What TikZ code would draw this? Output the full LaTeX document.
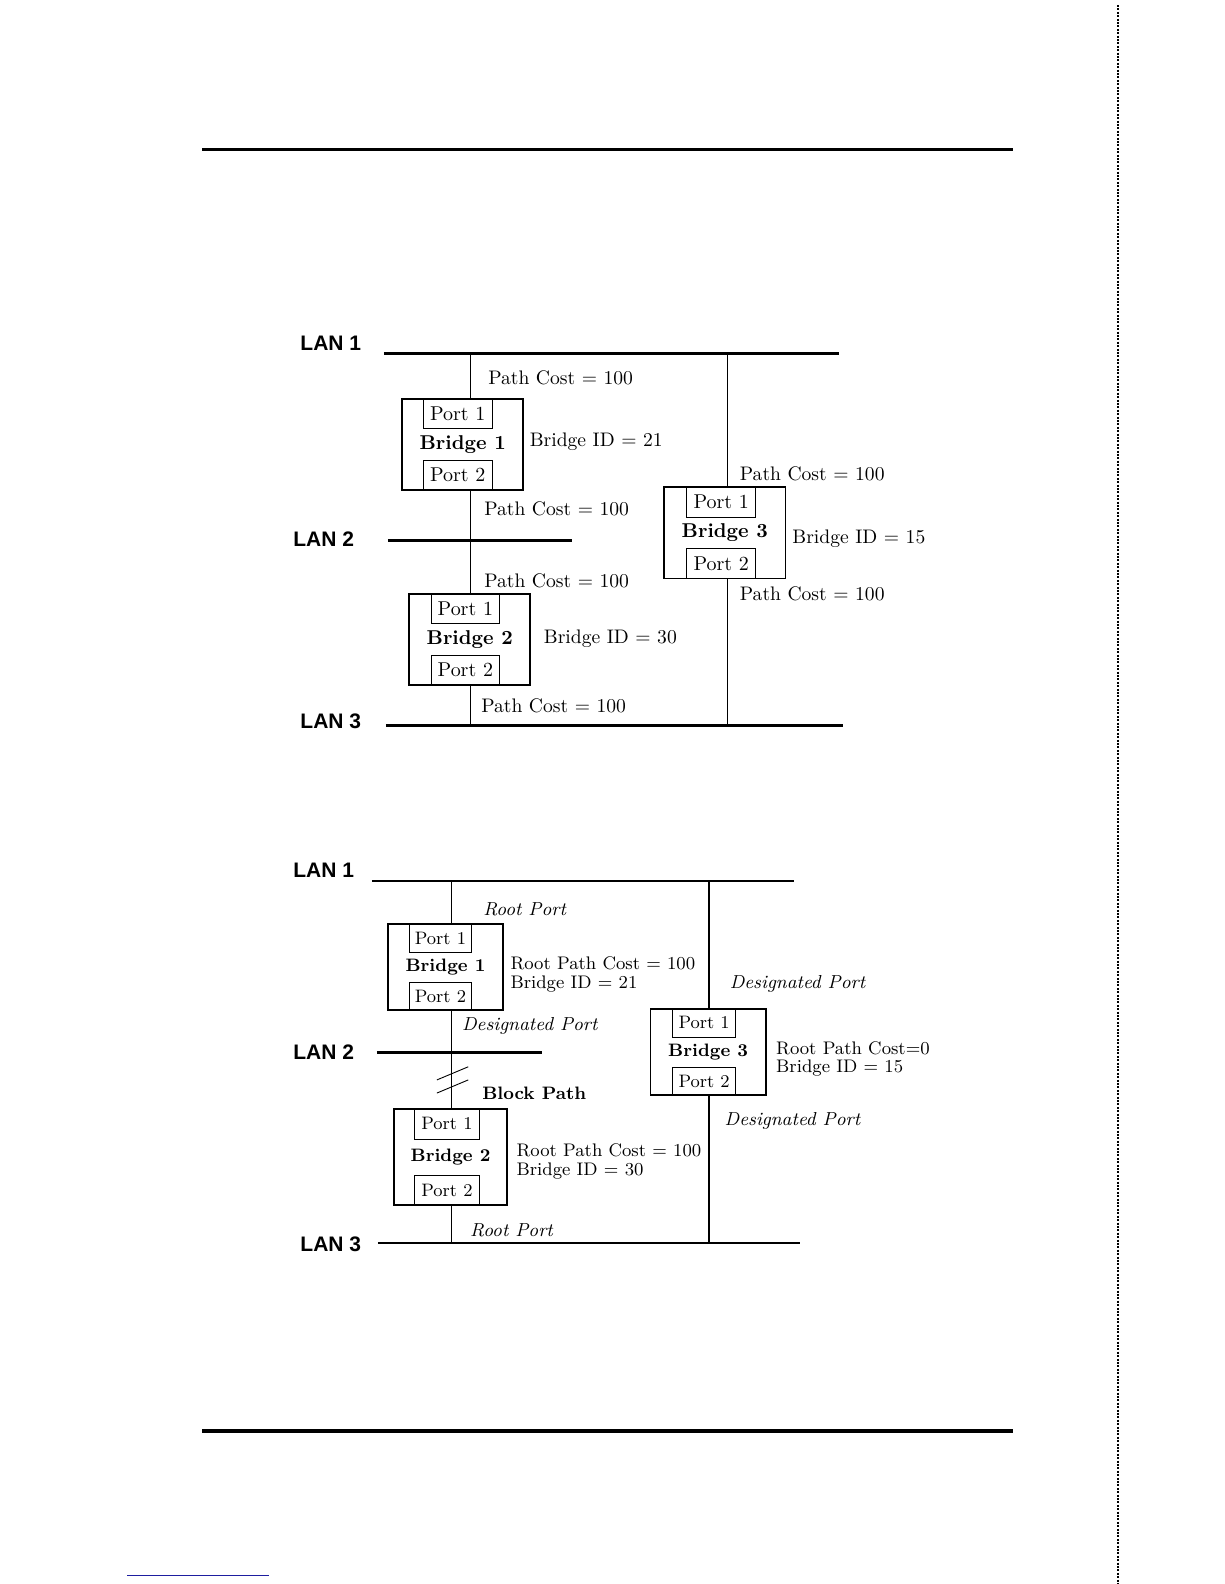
\documentclass[tikz,border=0pt]{standalone}
\usepackage{fontspec}
\newfontfamily\lanfont{Liberation Sans}
\usetikzlibrary{positioning}
\definecolor{linkblue}{RGB}{30,30,160}

\begin{document}
\begin{tikzpicture}[
    x=0.505pt, y=-0.505pt,
    lan/.style={line width=1.5pt},
    thinlan/.style={line width=1pt},
    link/.style={line width=0.7pt},
    bridge/.style={rectangle, draw, line width=0.9pt, minimum width=60.6pt, minimum height=45.5pt, inner sep=0pt, font=\bfseries},
    port/.style={rectangle, draw, line width=0.45pt, minimum width=34.3pt, minimum height=15.2pt, inner sep=0pt},
    sbridge/.style={bridge, minimum width=57.6pt, minimum height=42.9pt, font=\fontsize{9}{10}\selectfont\bfseries},
    sport/.style={port, minimum width=31.3pt, minimum height=14.1pt, font=\fontsize{9}{10}\selectfont},
    lanlabel/.style={anchor=west, inner sep=0pt, font=\lanfont\fontsize{10.5}{12}\selectfont\bfseries},
    cost/.style={anchor=west, inner sep=0pt, font=\fontsize{9.8}{11}\selectfont},
    role/.style={anchor=west, inner sep=0pt, font=\fontsize{9.4}{11}\selectfont\itshape},
    info/.style={anchor=north west, inner sep=0pt, align=left, font=\fontsize{9.1}{9.1}\selectfont}
]
\useasboundingbox (0,0) rectangle (1212,1568);

% page rules
\coordinate (rt1) at (200,148);  \coordinate (rt2) at (1003,148);
\coordinate (rb1) at (200,1417); \coordinate (rb2) at (1003,1417);
\coordinate (edge1) at (1107,5); \coordinate (edge2) at (1107,1568);
\coordinate (ft1) at (126,1559.5); \coordinate (ft2) at (266,1559.5);
\draw[line width=1.5pt] (rt1) -- (rt2);
\draw[line width=2pt] (rb1) -- (rb2);
\draw[line width=1pt, dash pattern=on 1pt off 0.7pt] (edge1) -- (edge2);
\draw[linkblue, line width=0.8pt] (ft1) -- (ft2);

% upper diagram: path costs
\node[lanlabel] (ta1) at (297,340) {LAN 1};
\node[lanlabel] (ta2) at (290,534) {LAN 2};
\node[lanlabel] (ta3) at (297,714) {LAN 3};
\coordinate (tl1w) at (380,350); \coordinate (tl1e) at (831,350);
\coordinate (tl2w) at (384,535); \coordinate (tl2e) at (566,535);
\coordinate (tl3w) at (382,718); \coordinate (tl3e) at (834,718);
\draw[lan] (tl1w) -- (tl1e);
\draw[lan] (tl2w) -- (tl2e);
\draw[lan] (tl3w) -- (tl3e);

\node[bridge] (tb1) at (458,440) {Bridge 1};
\node[port, anchor=north] (tb1p1) at ([xshift=-2.5pt]tb1.north) {Port 1};
\node[port, anchor=south] (tb1p2) at ([xshift=-2.5pt]tb1.south) {Port 2};
\node[bridge] (tb2) at (465,633) {Bridge 2};
\node[port, anchor=north] (tb2p1) at ([xshift=-2.2pt]tb2.north) {Port 1};
\node[port, anchor=south] (tb2p2) at ([xshift=-2.2pt]tb2.south) {Port 2};
\node[bridge] (tb3) at (717.5,527.5) {Bridge 3};
\node[port, anchor=north] (tb3p1) at ([xshift=-1.8pt]tb3.north) {Port 1};
\node[port, anchor=south] (tb3p2) at ([xshift=-1.8pt]tb3.south) {Port 2};

\coordinate (tt1) at (466,350); \coordinate (tt3) at (466,718);
\coordinate (tr1) at (720,350); \coordinate (tr3) at (720,718);
\draw[link] (tt1) -- (tt1 |- tb1.north);
\draw[link] (tt1 |- tb1.south) -- (tt1 |- tb2.north);
\draw[link] (tt1 |- tb2.south) -- (tt3);
\draw[link] (tr1) -- (tr1 |- tb3.north);
\draw[link] (tr1 |- tb3.south) -- (tr3);

\node[cost] (tc1) at (483,374) {Path Cost = 100};
\node[cost] (tc2) at (479,504) {Path Cost = 100};
\node[cost] (tc3) at (479,575) {Path Cost = 100};
\node[cost] (tc4) at (476,699) {Path Cost = 100};
\node[cost] (tc5) at (732,469) {Path Cost = 100};
\node[cost] (tc6) at (732,588) {Path Cost = 100};
\node[cost] (tid1) at (524,437) {Bridge ID = 21};
\node[cost] (tid2) at (538,632) {Bridge ID = 30};
\node[cost] (tid3) at (784,533) {Bridge ID = 15};

% lower diagram: port roles
\node[lanlabel] (ba1) at (290,861) {LAN 1};
\node[lanlabel] (ba2) at (290,1042) {LAN 2};
\node[lanlabel] (ba3) at (297,1232) {LAN 3};
\coordinate (bl1w) at (368,872);  \coordinate (bl1e) at (786,872);
\coordinate (bl2w) at (373,1042); \coordinate (bl2e) at (537,1042);
\coordinate (bl3w) at (374,1230); \coordinate (bl3e) at (792,1230);
\draw[thinlan] (bl1w) -- (bl1e);
\draw[lan] (bl2w) -- (bl2e);
\draw[thinlan] (bl3w) -- (bl3e);

\node[sbridge] (bb1) at (441,957.5) {Bridge 1};
\node[sport, anchor=north] (bb1p1) at ([xshift=-2.5pt]bb1.north) {Port 1};
\node[sport, anchor=south] (bb1p2) at ([xshift=-2.5pt]bb1.south) {Port 2};
\node[sbridge, minimum width=56.6pt, minimum height=48pt] (bb2) at (446,1145.5) {Bridge 2};
\node[sport, anchor=north, minimum width=32.8pt, minimum height=15.2pt] (bb2p1) at ([xshift=-1.8pt]bb2.north) {Port 1};
\node[sport, anchor=south, minimum width=32.8pt, minimum height=15.2pt] (bb2p2) at ([xshift=-1.8pt]bb2.south) {Port 2};
\node[sbridge] (bb3) at (701,1041.5) {Bridge 3};
\node[sport, anchor=north] (bb3p1) at ([xshift=-2pt]bb3.north) {Port 1};
\node[sport, anchor=south] (bb3p2) at ([xshift=-2pt]bb3.south) {Port 2};

\coordinate (bt1) at (447,872); \coordinate (bt3) at (447,1230);
\coordinate (br1) at (702,872); \coordinate (br3) at (702,1230);
\draw[link] (bt1) -- (bt1 |- bb1.north);
\draw[link] (bt1 |- bb1.south) -- (bt1 |- bb2.north);
\draw[link] (bt1 |- bb2.south) -- (bt3);
\draw[link] (br1) -- (br1 |- bb3.north);
\draw[link] (br1 |- bb3.south) -- (br3);

% blocked segment
\coordinate (cut) at (448,1069);
\foreach \d in {0,13}
  \draw[line width=0.45pt] ([shift={(-15.5,\d)}]cut) -- ([shift={(15.5,\d-13)}]cut);
\node[cost, font=\fontsize{9}{10}\selectfont\bfseries] (blk) at (477,1082) {Block Path};

\node[role] (rp1) at (478,900) {Root Port};
\node[role] (dp1) at (457,1016) {Designated Port};
\node[role] (dp2) at (722,974) {Designated Port};
\node[role] (dp3) at (717,1110) {Designated Port};
\node[role] (rp2) at (465,1218) {Root Port};
\node[info] (bi1) at (505,947) {Root Path Cost = 100\\Bridge ID = 21};
\node[info] (bi2) at (511,1132) {Root Path Cost = 100\\Bridge ID = 30};
\node[info] (bi3) at (768,1031) {Root Path Cost=0\\Bridge ID = 15};

\end{tikzpicture}
\end{document}
